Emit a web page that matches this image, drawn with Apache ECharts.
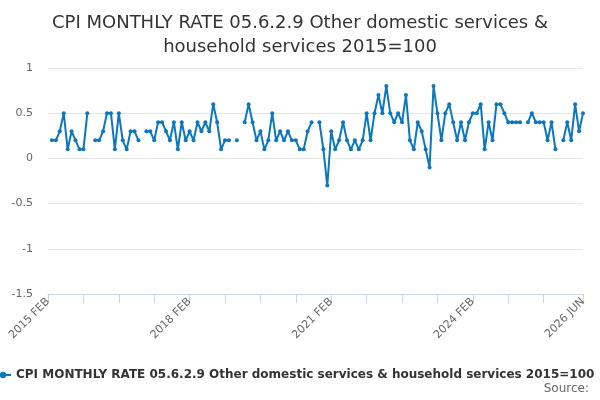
<!DOCTYPE html>
<html>
<head>
<meta charset="utf-8">
<title>CPI monthly rate 05.6.2.9</title>
<script src="https://cdn.jsdelivr.net/npm/echarts@6/dist/echarts.min.js"></script>
<style>
  html, body { margin: 0; padding: 0; background: #fff; }
  #chart { width: 600px; height: 400px; }
</style>
</head>
<body>
<div id="chart"></div>
<script>
// month names used to build the category list (2015 FEB .. 2026 JUN)
var MONTHS = ["JAN", "FEB", "MAR", "APR", "MAY", "JUN", "JUL", "AUG", "SEP", "OCT", "NOV", "DEC"];
var startYear = 2015, startMonth = 1, monthCount = 137;

var categories = [];
for (var i = 0; i < monthCount; i++) {
	var m = startMonth + i;
	categories.push((startYear + Math.floor(m / 12)) + " " + MONTHS[m % 12]);
}

// labels shown under the x axis
var xLabels = ["2015 FEB", "2018 FEB", "2021 FEB", "2024 FEB", "2026 JUN"];

var seriesName = "CPI MONTHLY RATE 05.6.2.9 Other domestic services & household services 2015=100";

// monthly rate, %, null = no value published
var rates = [
	null,
	0.2, 0.2, 0.3, 0.5, 0.1, 0.3, 0.2, 0.1, 0.1, 0.5,
	null,
	0.2, 0.2, 0.3, 0.5, 0.5, 0.1, 0.5, 0.2, 0.1, 0.3, 0.3, 0.2,
	null,
	0.3, 0.3, 0.2, 0.4, 0.4, 0.3, 0.2, 0.4, 0.1, 0.4, 0.2, 0.3, 0.2, 0.4, 0.3, 0.4, 0.3, 0.6, 0.4, 0.1, 0.2, 0.2,
	null,
	0.2,
	null,
	0.4, 0.6, 0.4, 0.2, 0.3, 0.1, 0.2, 0.5, 0.2, 0.3, 0.2, 0.3, 0.2, 0.2, 0.1, 0.1, 0.3, 0.4,
	null,
	0.4, 0.1, -0.3, 0.3, 0.1, 0.2, 0.4, 0.2, 0.1, 0.2, 0.1, 0.2, 0.5, 0.2, 0.5, 0.7, 0.5, 0.8, 0.5, 0.4,
	0.5, 0.4, 0.7, 0.2, 0.1, 0.4, 0.3, 0.1, -0.1, 0.8, 0.5, 0.2, 0.5, 0.6, 0.4, 0.2, 0.4,
	0.2, 0.4, 0.5, 0.5, 0.6, 0.1, 0.4, 0.2, 0.6, 0.6, 0.5, 0.4, 0.4, 0.4, 0.4,
	null,
	0.4, 0.5, 0.4, 0.4, 0.4, 0.2, 0.4, 0.1,
	null,
	0.2, 0.4, 0.2, 0.6, 0.3, 0.5
];

var FONT = "DejaVu Sans";
var LINE_COLOR = "#0a77bf";

var chart = echarts.init(document.getElementById("chart"));

chart.setOption({
	animation: false,
	textStyle: { fontFamily: FONT },
	title: [{
		text: "CPI MONTHLY RATE 05.6.2.9 Other domestic services &\nhousehold services 2015=100",
		left: "center",
		top: 6,
		textStyle: { fontFamily: FONT, fontSize: 18, fontWeight: "normal", color: "#333", lineHeight: 24 }
	}, {
		text: "Source:",
		right: 6,
		bottom: 0,
		textStyle: { fontFamily: FONT, fontSize: 12, fontWeight: "normal", color: "#666" }
	}],
	legend: {
		left: -11,
		bottom: 14,
		itemWidth: 16,
		itemHeight: 8,
		itemGap: 4,
		textStyle: { fontFamily: FONT, fontSize: 12, fontWeight: "bold", color: "#333" },
		data: [seriesName]
	},
	grid: { left: 48, right: 17, top: 68, bottom: 106, containLabel: false },
	xAxis: {
		type: "category",
		boundaryGap: false,
		data: categories,
		axisLine: { onZero: false, lineStyle: { color: "#ccd6eb" } },
		axisTick: {
			length: 9,
			lineStyle: { color: "#ccd6eb" },
			interval: function (i) {
				return (i % 9 === 0 && i <= 126) || i === monthCount - 1;
			}
		},
		axisLabel: {
			rotate: 45,
			color: "#666",
			fontSize: 11,
			fontFamily: FONT,
			margin: 6,
			interval: function (i, value) {
				return xLabels.indexOf(value) >= 0;
			}
		},
		splitLine: { show: false }
	},
	yAxis: {
		type: "value",
		min: -1.5,
		max: 1,
		interval: 0.5,
		axisLine: { show: false },
		axisTick: { show: false },
		axisLabel: { color: "#666", fontSize: 11, fontFamily: FONT, margin: 15 },
		splitLine: { lineStyle: { color: "#e6e6e6" } }
	},
	series: [{
		name: seriesName,
		type: "line",
		data: rates.map(function (v) { return v === null ? "-" : v; }),
		connectNulls: false,
		showAllSymbol: true,
		symbol: "circle",
		symbolSize: 4,
		itemStyle: { color: LINE_COLOR },
		lineStyle: { color: LINE_COLOR, width: 2 }
	}]
});
</script>
</body>
</html>
